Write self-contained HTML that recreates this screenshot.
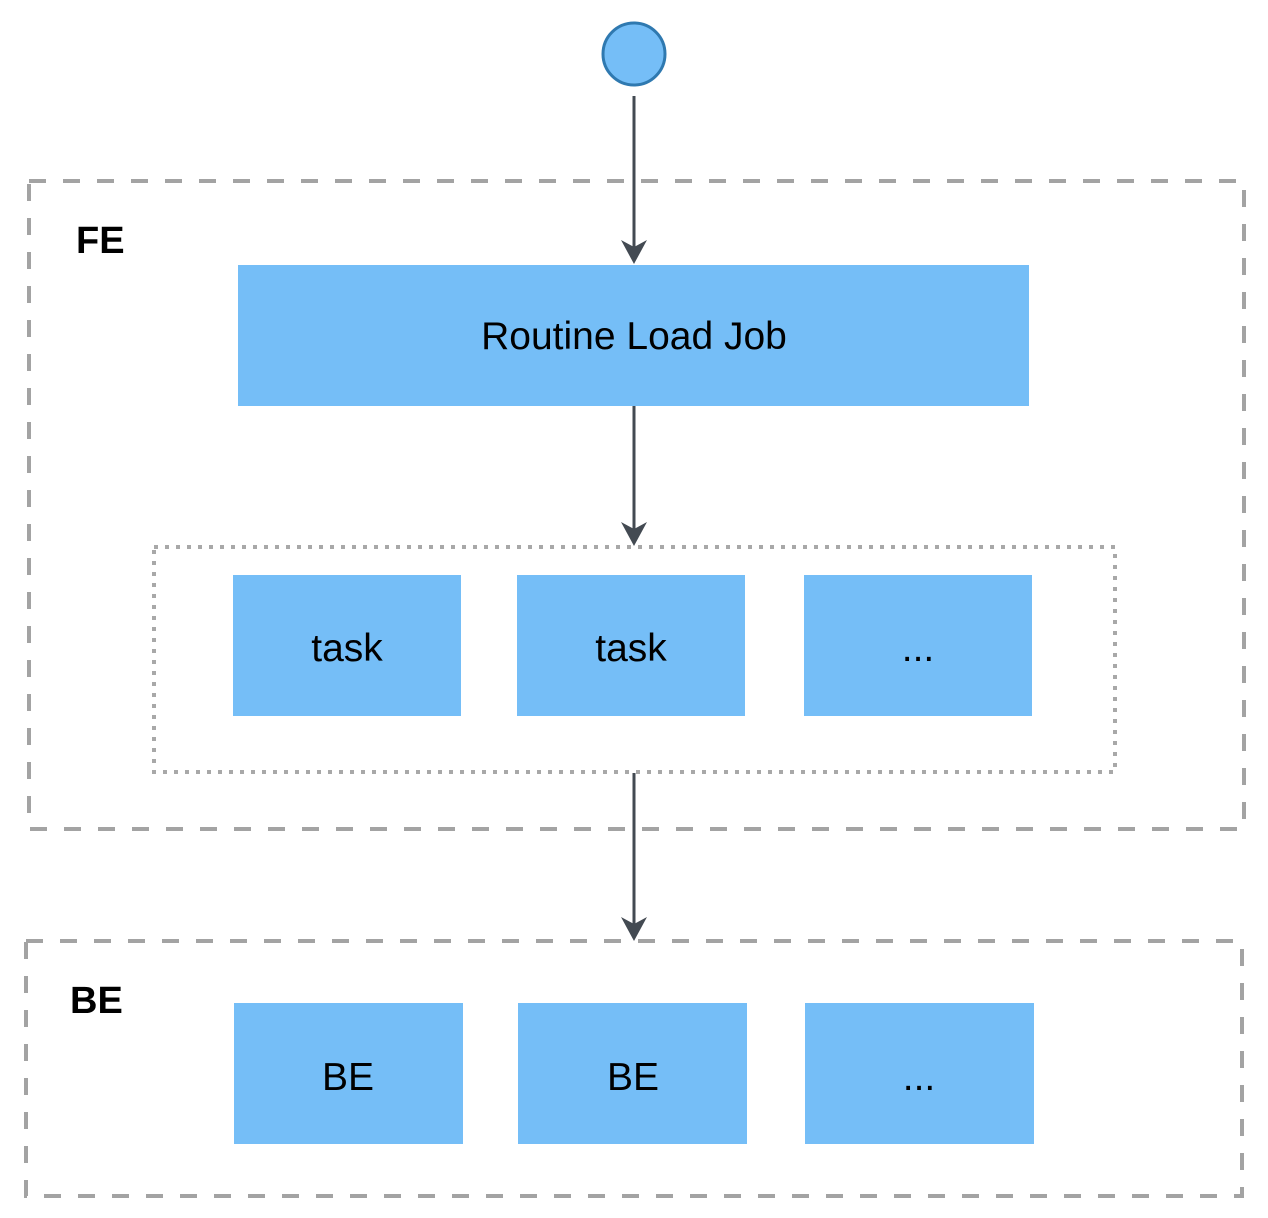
<!DOCTYPE html>
<html><head><meta charset="utf-8"><style>
html,body{margin:0;padding:0;background:#fff;width:1268px;height:1218px;overflow:hidden}
text{font-family:"Liberation Sans",sans-serif}
</style></head><body>
<svg width="1268" height="1218" viewBox="0 0 1268 1218" xmlns="http://www.w3.org/2000/svg">
<rect x="29" y="181" width="1215" height="648" fill="none" stroke="#a3a3a3" stroke-width="4" stroke-dasharray="17 17"/>
<rect x="26" y="941" width="1216" height="255" fill="none" stroke="#a3a3a3" stroke-width="4" stroke-dasharray="17 17"/>
<rect x="154" y="547" width="961" height="225" fill="none" stroke="#a8a8a8" stroke-width="4" stroke-dasharray="4 7"/>
<text x="76" y="253" font-size="38" font-weight="bold" fill="#000">FE</text>
<text x="70" y="1013" font-size="38" font-weight="bold" fill="#000">BE</text>
<circle cx="634" cy="54" r="31" fill="#75bef7" stroke="#2f79b0" stroke-width="3"/>
<g stroke="#434a52" stroke-width="3">
<line x1="634" y1="96" x2="634" y2="250"/>
<line x1="634" y1="406" x2="634" y2="532"/>
<line x1="634" y1="773" x2="634" y2="927"/>
</g>
<g fill="#434a52">
<path d="M621 240 L634 264 L647 240 L634 247 Z"/>
<path d="M621 522 L634 546 L647 522 L634 529 Z"/>
<path d="M621 917 L634 941 L647 917 L634 924 Z"/>
</g>
<g fill="#75bef7">
<rect x="238" y="265" width="791" height="141"/>
<rect x="233" y="575" width="228" height="141"/>
<rect x="517" y="575" width="228" height="141"/>
<rect x="804" y="575" width="228" height="141"/>
<rect x="234" y="1003" width="229" height="141"/>
<rect x="518" y="1003" width="229" height="141"/>
<rect x="805" y="1003" width="229" height="141"/>
</g>
<g font-size="39" fill="#000" text-anchor="middle">
<text x="634" y="349">Routine Load Job</text>
<text x="347" y="661">task</text>
<text x="631" y="661">task</text>
<text x="918" y="661">...</text>
<text x="348" y="1090">BE</text>
<text x="633" y="1090">BE</text>
<text x="919" y="1090">...</text>
</g>
</svg>
</body></html>
